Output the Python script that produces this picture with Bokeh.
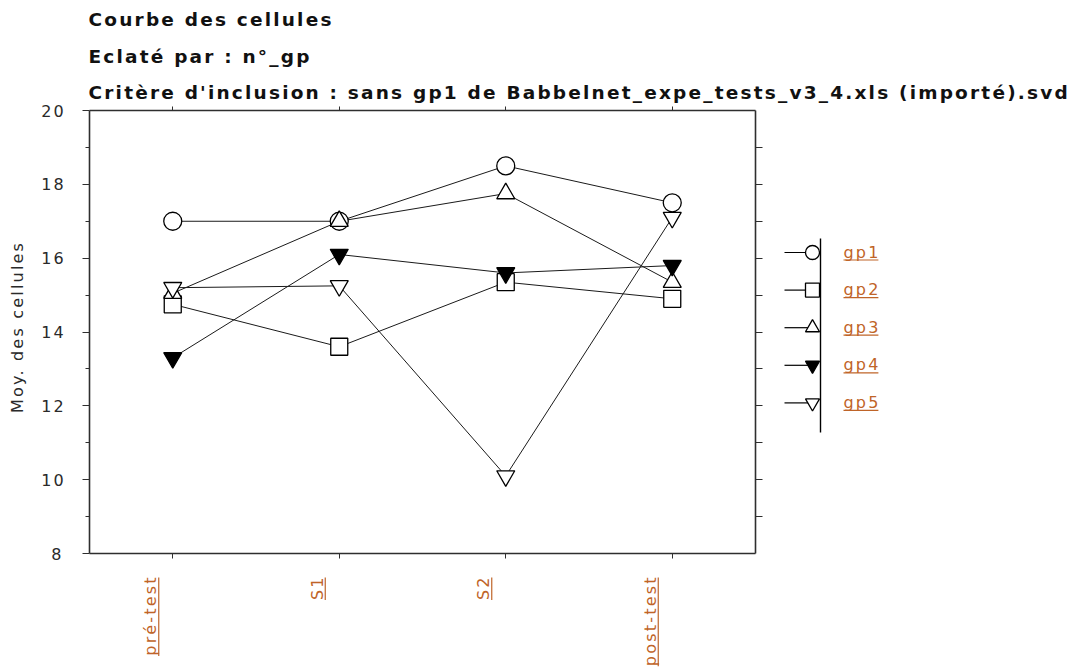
from math import pi
from bokeh.plotting import figure
from bokeh.models import (FixedTicker, LinearAxis, Range1d, ColumnDataSource,
                          InlineStyleSheet)
from bokeh.core.properties import value
from bokeh.embed import file_html
from bokeh.resources import INLINE

# ---------------- data ----------------
categories = ["pré-test", "S1", "S2", "post-test"]
groups = ["gp1", "gp2", "gp3", "gp4", "gp5"]
gp1 = [17.0, 17.0, 18.5, 17.5]
gp2 = [14.75, 13.6, 15.35, 14.9]
gp3 = [15.05, 17.0, 17.75, 15.35]
gp4 = [13.3, 16.1, 15.6, 15.8]
gp5 = [15.2, 15.25, 10.1, 17.1]
series = [gp1, gp2, gp3, gp4, gp5]
y_ticks = [8, 10, 12, 14, 16, 18, 20]
y_minor = [9, 11, 13, 15, 17, 19]
y_right_ticks = [9, 10, 11, 12, 13, 14, 15, 16, 17, 18, 19]
y_title = "Moy. des cellules"
titles = ["Courbe des cellules",
          "Eclaté par : n°_gp",
          "Critère d'inclusion : sans gp1 de Babbelnet_expe_tests_v3_4.xls (importé).svd"]

# ---------------- styles / layout ----------------
markers = ["circle", "square", "triangle", "inverted_triangle", "inverted_triangle"]
sizes = [18, 17, 18, 18, 18]
fills = ["white", "white", "white", "black", "white"]
LINK = "#bf6428"
FONT = "DejaVu Sans"
FS = 16          # text size
LS = 2.2         # letter spacing
BASE_SHIFT = 5.5  # rendered baseline sits this far below the anchor
AX = "#2e2e2e"
TXT = "#2a2a2a"

W, H = 1080, 670
BL, BR, BT, BB = 89, 755, 110, 553      # plot box in pixels
Y0, Y1 = 8, 20
X0, X1 = -0.5, len(categories) - 0.5
SX = (BR - BL) / (X1 - X0)
SY = (BB - BT) / (Y1 - Y0)


def X(px):
    return X0 + (px - BL) / SX


def Y(py):
    return Y1 - (py - BT) / SY


CHAR_W = {'p': 0.635, 'r': 0.411, 'é': 0.615, '-': 0.361, 't': 0.392, 'e': 0.615,
          's': 0.521, 'S': 0.635, 'o': 0.612, 'g': 0.635}


def text_w(s, size=FS):
    return sum(CHAR_W.get(c, 0.636) for c in s) * size + (len(s) - 1) * LS


p = figure(width=W, height=H, x_range=Range1d(X(0), X(W)), y_range=Range1d(Y(H), Y(0)),
           output_backend="svg", toolbar_location=None,
           min_border=0, min_border_left=0, min_border_right=0,
           min_border_top=0, min_border_bottom=0,
           background_fill_color="white", border_fill_color="white")
p.title.visible = False
p.grid.visible = False
p.outline_line_color = None
p.stylesheets = [InlineStyleSheet(css=f":host {{ letter-spacing: {LS}px; }}")]

# left axis
ya = p.yaxis[0]
ya.fixed_location = X0
ya.bounds = (Y0, Y1)
ya.ticker = FixedTicker(ticks=y_ticks, minor_ticks=y_minor)
ya.axis_line_color = AX
ya.axis_line_width = 1.6
ya.major_tick_in = 0
ya.major_tick_out = 7
ya.minor_tick_in = 0
ya.minor_tick_out = 4
ya.major_tick_line_color = AX
ya.minor_tick_line_color = AX
ya.major_label_text_font = FONT
ya.major_label_text_font_size = f"{FS}px"
ya.major_label_text_color = TXT
ya.major_label_standoff = 21

# y axis title (centred on the plot box, compensating the letter spacing)
p.text(x=[X(16.5)], y=[Y((BT + BB) / 2 - 4)], text=[y_title], angle=pi / 2,
       y_offset=(len(y_title) - 1) * LS / 2,
       text_align="center", text_baseline="alphabetic",
       text_font=value(FONT), text_font_size=f"{FS}px", text_color=TXT)

# bottom axis
xa = p.xaxis[0]
xa.fixed_location = Y0
xa.bounds = (X0, X1)
xa.ticker = FixedTicker(ticks=list(range(len(categories))))
xa.major_label_overrides = {i: "" for i in range(len(categories))}
xa.axis_line_color = AX
xa.axis_line_width = 1.6
xa.major_tick_in = 0
xa.major_tick_out = 5
xa.minor_tick_out = 0
xa.minor_tick_in = 0
xa.major_tick_line_color = AX

# top axis
ta = LinearAxis(fixed_location=Y1, bounds=(X0, X1),
                ticker=FixedTicker(ticks=list(range(len(categories)))),
                major_label_overrides={i: "" for i in range(len(categories))},
                axis_line_color=AX, axis_line_width=1.6,
                major_tick_in=0, major_tick_out=4, minor_tick_in=0, minor_tick_out=0,
                major_tick_line_color=AX, major_label_standoff=0)
p.add_layout(ta, "above")

# right axis
ra = LinearAxis(fixed_location=X1, bounds=(Y0, Y1),
                ticker=FixedTicker(ticks=y_right_ticks),
                major_label_overrides={t: "" for t in y_right_ticks},
                axis_line_color=AX, axis_line_width=1.6,
                major_tick_in=0, major_tick_out=7, minor_tick_in=0, minor_tick_out=0,
                major_tick_line_color=AX, major_label_standoff=0)
p.add_layout(ra, "right")

# data
xs = list(range(len(categories)))
for vals in series:
    p.line(xs, vals, line_color="#1a1a1a", line_width=1)
for vals, m, s, f in zip(series, markers, sizes, fills):
    p.scatter(xs, vals, marker=m, size=s, fill_color=f, line_color="black", line_width=1.3)

# titles
title_base = [24, 61, 97]
p.text(x=[X(88)] * len(titles), y=[Y(b - BASE_SHIFT) for b in title_base], text=titles,
       text_font=value(FONT), text_font_size="18.5px", text_font_style="bold",
       text_color="#111111", text_align="left", text_baseline="alphabetic")

# x category labels (rotated, underlined)
XL_TOP = 577
UL_DX = -14        # underline offset from the tick, px
xl_src = ColumnDataSource(dict(
    x=xs, y=[Y(XL_TOP)] * len(categories), text=categories,
    yoff=[(len(c) - 1) * LS for c in categories]))
p.text(x="x", y="y", text="text", source=xl_src, angle=pi / 2,
       x_offset=UL_DX - 2.5 - BASE_SHIFT, y_offset="yoff",
       text_align="right", text_baseline="alphabetic",
       text_font=value(FONT), text_font_size=f"{FS}px", text_color=LINK)
p.segment(x0=[i + UL_DX / SX for i in xs], x1=[i + UL_DX / SX for i in xs],
          y0=[Y(XL_TOP)] * len(categories),
          y1=[Y(XL_TOP + text_w(c)) for c in categories],
          line_color=LINK, line_width=1.2)

# legend (drawn to the right of the plot box)
ROW0, ROWH = 252, 37.6
rows = [ROW0 + ROWH * i for i in range(len(groups))]
MK_X, STUB_X, VL_X, LAB_X = 812, 784, 820, 843
p.segment(x0=[X(STUB_X)] * len(groups), x1=[X(MK_X)] * len(groups),
          y0=[Y(r) for r in rows], y1=[Y(r) for r in rows], line_color="black", line_width=1.2)
p.segment(x0=[X(VL_X)], x1=[X(VL_X)], y0=[Y(238)], y1=[Y(432)], line_color="black", line_width=1.4)
for r, m, f in zip(rows, markers, fills):
    p.scatter([X(MK_X)], [Y(r)], marker=m, size=14, fill_color=f, line_color="black", line_width=1.3)
p.text(x=[X(LAB_X)] * len(groups), y=[Y(r + 5 - BASE_SHIFT) for r in rows], text=groups,
       text_font=value(FONT), text_font_size=f"{FS}px", text_color=LINK,
       text_align="left", text_baseline="alphabetic")
p.segment(x0=[X(LAB_X)] * len(groups), x1=[X(LAB_X + text_w(g)) for g in groups],
          y0=[Y(r + 7.5) for r in rows], y1=[Y(r + 7.5) for r in rows],
          line_color=LINK, line_width=1.2)

open("out.html", "w").write(file_html(p, INLINE))
